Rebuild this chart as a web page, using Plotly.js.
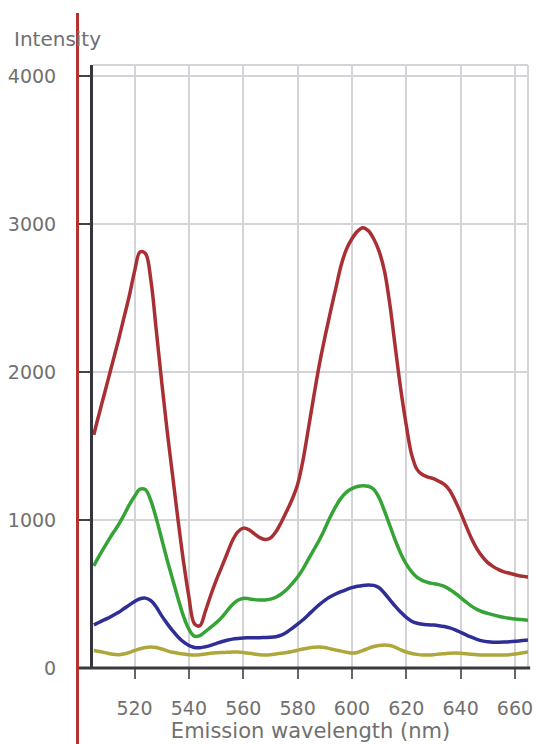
<!DOCTYPE html>
<html>
<head>
<meta charset="utf-8">
<script src="https://cdn.plot.ly/plotly-3.0.1.min.js"></script>
<style>html,body{margin:0;padding:0;background:#fff;}#chart{width:536px;height:744px;}</style>
</head>
<body>
<div id="chart"></div>
<script>
// Emission wavelength (nm)
var wavelength = [505,506,508,510,512,514,516,518,520,522,524,526,528,530,532,534,536,538,540,542,544,546,548,550,552,554,556,558,560,562,564,566,568,570,572,574,576,578,580,582,584,586,588,590,592,594,596,598,600,602,604,606,608,610,612,614,616,618,620,622,624,626,628,630,632,634,636,638,640,642,644,646,648,650,652,654,656,658,660,662,664,665];

var redSeries = [1575,1650,1790,1930,2070,2210,2360,2510,2680,2810,2800,2620,2280,1930,1600,1300,1000,720,480,300,285,380,490,590,680,770,860,920,945,935,908,882,868,878,920,985,1060,1140,1240,1405,1620,1840,2050,2230,2400,2560,2720,2830,2900,2950,2975,2955,2900,2815,2680,2450,2160,1880,1640,1440,1340,1305,1290,1280,1262,1240,1200,1130,1050,960,875,805,752,712,685,665,650,640,630,622,617,615];

var greenSeries = [690,725,790,850,910,965,1030,1100,1160,1208,1205,1130,1010,870,730,600,470,350,262,215,218,245,275,305,340,385,428,458,470,468,462,460,460,465,478,500,530,570,615,670,735,800,865,940,1020,1090,1148,1188,1212,1226,1232,1228,1208,1150,1060,960,860,772,702,650,612,590,578,570,563,552,530,505,476,446,418,396,380,369,359,350,342,336,331,327,324,323];

var blueSeries = [292,300,318,335,355,375,400,425,450,468,472,455,412,352,300,252,210,176,152,139,137,143,153,165,177,187,195,200,203,204,205,205,206,207,211,222,242,268,296,326,360,395,428,457,481,500,516,530,543,552,558,561,558,542,505,460,416,376,342,316,302,295,292,290,286,280,271,258,241,224,208,194,183,177,174,174,175,177,180,184,188,190];

var yellowSeries = [118,115,108,100,93,90,95,105,118,130,139,142,138,128,116,106,100,95,90,88,90,95,100,103,105,106,108,108,105,100,95,90,88,90,95,100,105,112,120,128,135,140,142,138,130,122,114,107,101,105,118,132,145,152,155,152,140,122,108,98,92,88,88,90,94,97,100,101,100,97,93,90,88,88,88,88,88,90,95,100,106,108];

var xTickVals = [520,540,560,580,600,620,640,660];
var xTickText = ["520","540","560","580","600","620","640","660"];
var yTickVals = [0,1000,2000,3000,4000];
var yTickText = ["0","1000","2000","3000","4000"];

var seriesList = [
  {y: yellowSeries, color: '#aea83c', name: 'yellow'},
  {y: blueSeries, color: '#2e2e96', name: 'blue'},
  {y: greenSeries, color: '#36a336', name: 'green'},
  {y: redSeries, color: '#a83034', name: 'red'}
];

var traces = seriesList.map(function(s){
  return {x: wavelength, y: s.y, type: 'scatter', mode: 'lines', name: s.name,
    line: {color: s.color, width: 3.5, shape: 'spline', smoothing: 1},
    hoverinfo: 'x+y', showlegend: false};
});

var tickFont = {family: 'DejaVu Sans, sans-serif', size: 19, color: '#707070'};

var layout = {
  width: 536, height: 744,
  margin: {l: 93, r: 8, t: 65, b: 76, pad: 0},
  paper_bgcolor: '#ffffff', plot_bgcolor: '#ffffff',
  showlegend: false,
  xaxis: {
    range: [504.7, 664.8], tickvals: xTickVals, ticktext: xTickText,
    ticks: 'outside', ticklen: 10, tickwidth: 2, tickcolor: '#666666',
    ticklabelstandoff: 13,
    showgrid: true, gridcolor: '#d4d4d8', gridwidth: 2,
    zeroline: false, showline: false,
    tickfont: tickFont,
    title: {text: 'Emission wavelength (nm)', font: {family: 'DejaVu Sans, sans-serif', size: 21, color: '#707070'}, standoff: 4}
  },
  yaxis: {
    range: [0, 4074], tickvals: yTickVals, ticktext: yTickText,
    ticks: 'outside', ticklen: 14, tickwidth: 2, tickcolor: '#444444',
    ticklabelstandoff: 16,
    showgrid: true, gridcolor: '#d4d4d8', gridwidth: 2,
    zeroline: false, showline: true, linecolor: '#353540', linewidth: 3,
    tickfont: tickFont
  },
  annotations: [{
    text: 'Intensity', xref: 'paper', yref: 'paper',
    x: (12 - 93) / 435, y: (668 - 39) / 603, xanchor: 'left', yanchor: 'middle',
    showarrow: false, font: {family: 'DejaVu Sans, sans-serif', size: 20, color: '#707070'}
  }],
  shapes: [
    {type: 'line', xref: 'paper', yref: 'paper', x0: 0, x1: 1, y0: 1, y1: 1, line: {color: '#d4d4d8', width: 2}, layer: 'below'},
    {type: 'line', xref: 'paper', yref: 'paper', x0: 1, x1: 1, y0: 0, y1: 1, line: {color: '#d4d4d8', width: 2}, layer: 'below'},
    {type: 'line', xref: 'paper', yref: 'paper', x0: -15.5 / 435, x1: 1.005, y0: 0, y1: 0, line: {color: '#3a3a3e', width: 3}, layer: 'above'},
    {type: 'line', xref: 'paper', yref: 'paper', x0: -15.5 / 435, x1: -15.5 / 435, y0: -0.13, y1: (668 - 13) / 603, line: {color: '#b3342f', width: 3}, layer: 'above'}
  ]
};

Plotly.newPlot('chart', traces, layout, {displayModeBar: false, staticPlot: true});
</script>
</body>
</html>
